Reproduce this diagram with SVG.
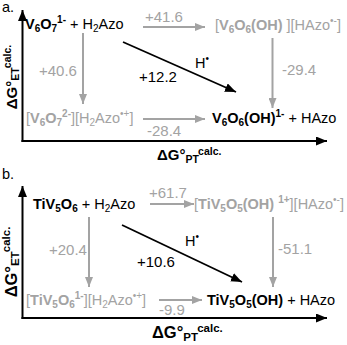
<svg xmlns="http://www.w3.org/2000/svg" width="347" height="345" viewBox="0 0 347 345">
<defs>
<style>
text{font-family:"Liberation Sans",Arial,Helvetica,sans-serif;font-size:14.5px}
.k{fill:#000}
.g{fill:#a3a3a3}
.b{font-weight:bold}
.s{font-size:10px}
.n{font-size:15px}
.ax{font-weight:bold;font-size:15px}
.axb{font-weight:bold;font-size:16.5px}
.as{font-size:10.5px}
.asb{font-size:11.5px}
.axis{stroke:#000;stroke-width:2;fill:none}
.ga{stroke:#a3a3a3;stroke-width:2;fill:none;marker-end:url(#mg)}
.ka{stroke:#000;stroke-width:1.8;fill:none;marker-end:url(#mk)}
</style>
<marker id="mg" markerUnits="userSpaceOnUse" markerWidth="10" markerHeight="8" refX="10" refY="4" orient="auto"><path d="M0,0 L10,4 L0,8 z" fill="#a3a3a3"/></marker>
<marker id="mk" markerUnits="userSpaceOnUse" markerWidth="11" markerHeight="9" refX="11" refY="4.5" orient="auto"><path d="M0,0 L11,4.5 L0,9 z" fill="#000"/></marker>
<marker id="ma" markerUnits="userSpaceOnUse" markerWidth="11" markerHeight="9" refX="11" refY="4.5" orient="auto"><path d="M0,0 L11,4.5 L0,9 z" fill="#000"/></marker>
</defs>

<!-- Panel a -->
<g id="panel-a-label"><text x="2" y="12" class="k">a.</text></g>
<g id="axes-a">
<line class="axis" x1="22.5" y1="142" x2="22.5" y2="10" marker-end="url(#ma)"/>
<line class="axis" x1="21.5" y1="141" x2="327" y2="141" marker-end="url(#ma)"/>
<text class="ax k" x="157" y="160">ΔG°<tspan class="as" dy="3">PT</tspan><tspan class="as" dy="-8">calc.</tspan></text>
<text class="ax k" transform="translate(16.5,77) rotate(-90)" text-anchor="middle">ΔG°<tspan class="as" dy="2">ET</tspan><tspan class="as" dy="-8">calc.</tspan></text>
</g>
<g id="a-reactants"><text x="25" y="29" class="k"><tspan class="b">V<tspan class="s" dy="3">6</tspan><tspan dy="-3">O</tspan><tspan class="s" dy="3">7</tspan><tspan class="s" dy="-9">1-</tspan></tspan><tspan dy="6"> + H</tspan><tspan class="s" dy="3">2</tspan><tspan dy="-3">Azo</tspan></text></g>
<g id="a-pt-first"><text x="215" y="30" class="g">[<tspan class="b">V<tspan class="s" dy="3">6</tspan><tspan dy="-3">O</tspan><tspan class="s" dy="3">6</tspan><tspan dy="-3">(OH)</tspan></tspan> ][HAzo<tspan class="s" dy="-6">•-</tspan><tspan dy="6">]</tspan></text></g>
<g id="a-et-first"><text x="26" y="123" class="g">[<tspan class="b">V<tspan class="s" dy="3">6</tspan><tspan dy="-3">O</tspan><tspan class="s" dy="3">7</tspan><tspan class="s" dy="-9">2-</tspan></tspan><tspan dy="6">][H</tspan><tspan class="s" dy="3">2</tspan><tspan dy="-3">Azo</tspan><tspan class="s" dy="-6">•+</tspan><tspan dy="6">]</tspan></text></g>
<g id="a-products"><text x="212" y="123" class="k"><tspan class="b">V<tspan class="s" dy="3">6</tspan><tspan dy="-3">O</tspan><tspan class="s" dy="3">6</tspan><tspan dy="-3">(OH)</tspan><tspan class="s" dy="-6">1-</tspan></tspan><tspan dy="6"> + HAzo</tspan></text></g>

<!-- Panel b -->
<g id="panel-b-label"><text x="2" y="179" class="k">b.</text></g>
<g id="axes-b">
<line class="axis" x1="22.5" y1="319" x2="22.5" y2="186" marker-end="url(#ma)"/>
<line class="axis" x1="21.5" y1="318" x2="327" y2="318" marker-end="url(#ma)"/>
<text class="axb k" x="152" y="338">ΔG°<tspan class="asb" dy="3">PT</tspan><tspan class="asb" dy="-9">calc.</tspan></text>
<text class="axb k" transform="translate(16.5,262) rotate(-90)" text-anchor="middle">ΔG°<tspan class="asb" dy="2">ET</tspan><tspan class="asb" dy="-9">calc.</tspan></text>
</g>
<g id="b-reactants"><text x="33" y="209" class="k"><tspan class="b">TiV<tspan class="s" dy="3">5</tspan><tspan dy="-3">O</tspan><tspan class="s" dy="3">6</tspan></tspan><tspan dy="-3"> + H</tspan><tspan class="s" dy="3">2</tspan><tspan dy="-3">Azo</tspan></text></g>
<g id="b-pt-first"><text x="194" y="209" class="g">[<tspan class="b">TiV<tspan class="s" dy="3">5</tspan><tspan dy="-3">O</tspan><tspan class="s" dy="3">5</tspan><tspan dy="-3">(OH) </tspan><tspan class="s" dy="-6">1+</tspan></tspan><tspan dy="6">][HAzo</tspan><tspan class="s" dy="-6">•-</tspan><tspan dy="6">]</tspan></text></g>
<g id="b-et-first"><text x="26" y="305" class="g">[<tspan class="b">TiV<tspan class="s" dy="3">5</tspan><tspan dy="-3">O</tspan><tspan class="s" dy="3">6</tspan><tspan class="s" dy="-9">1-</tspan></tspan><tspan dy="6">][H</tspan><tspan class="s" dy="3">2</tspan><tspan dy="-3">Azo</tspan><tspan class="s" dy="-6">•+</tspan><tspan dy="6">]</tspan></text></g>
<g id="b-products"><text x="207" y="305" class="k"><tspan class="b">TiV<tspan class="s" dy="3">5</tspan><tspan dy="-3">O</tspan><tspan class="s" dy="3">5</tspan><tspan dy="-3">(OH)</tspan></tspan> + HAzo</text></g>

<!-- Connectors -->
<g id="connectors">
<line class="ga" x1="143" y1="27" x2="205" y2="27"/>
<text class="n g" x="145" y="22">+41.6</text>
<line class="ga" x1="272.5" y1="38" x2="272.5" y2="108"/>
<text class="n g" x="282" y="75">-29.4</text>
<line class="ga" x1="83" y1="33" x2="83" y2="104"/>
<text class="n g" x="39" y="76">+40.6</text>
<line class="ga" x1="143" y1="119" x2="205" y2="119"/>
<text class="n g" x="147" y="136">-28.4</text>
<line class="ka" x1="123" y1="42" x2="236" y2="92"/>
<text class="k" x="195" y="68">H<tspan class="s" dy="-6">•</tspan></text>
<text class="n k" x="139" y="82">+12.2</text>

<line class="ga" x1="150" y1="204" x2="194" y2="204"/>
<text class="n g" x="149" y="198">+61.7</text>
<line class="ga" x1="89" y1="217" x2="89" y2="287"/>
<text class="n g" x="49" y="255">+20.4</text>
<line class="ga" x1="273" y1="217" x2="273" y2="287"/>
<text class="n g" x="278" y="254">-51.1</text>
<line class="ga" x1="159" y1="300" x2="202" y2="300"/>
<text class="n g" x="159" y="315">-9.9</text>
<line class="ka" x1="122" y1="225" x2="242" y2="282"/>
<text class="k" x="185" y="246">H<tspan class="s" dy="-6">•</tspan></text>
<text class="n k" x="137" y="267">+10.6</text>
</g>
</svg>
